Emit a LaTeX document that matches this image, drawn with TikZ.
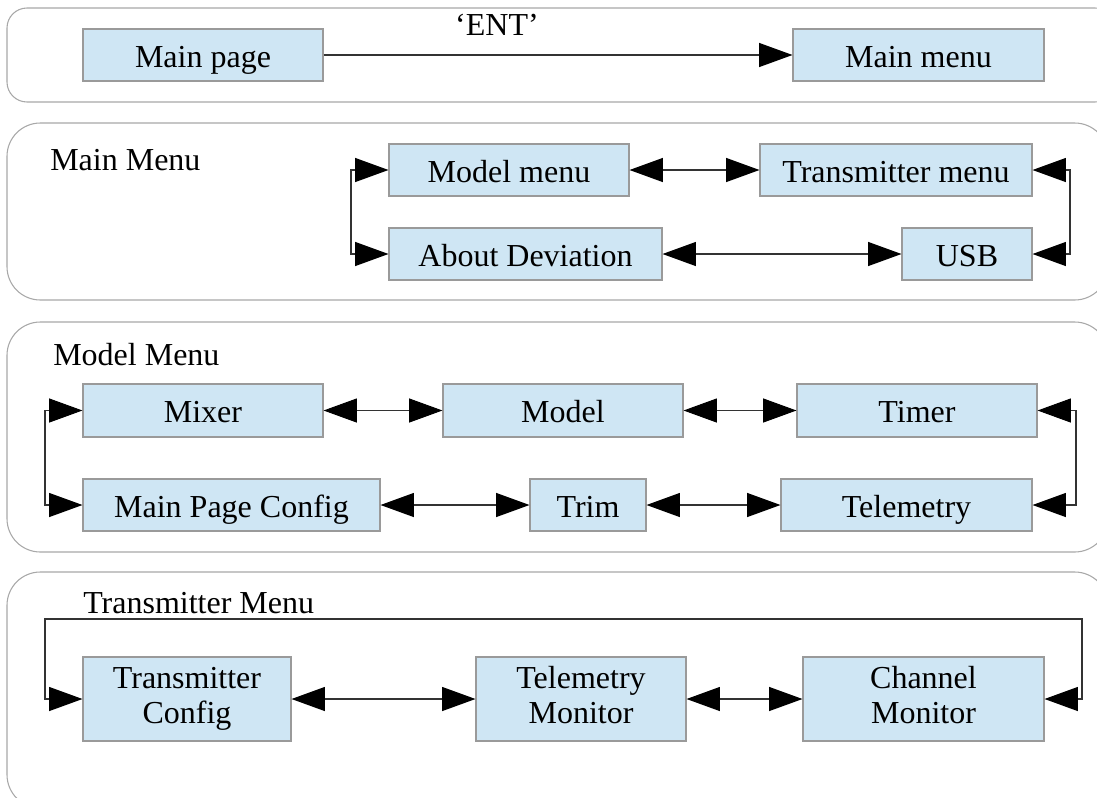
\documentclass[tikz,border=0pt]{standalone}
\usepackage{fontspec}
\setmainfont{Liberation Serif}
\usetikzlibrary{arrows.meta}
\definecolor{boxfill}{HTML}{CFE6F4}
\definecolor{boxline}{HTML}{9A9A9A}
\definecolor{panelline}{HTML}{A8A8A8}
\definecolor{conn}{HTML}{333333}
\tikzset{
  mbox/.style={draw=boxline, fill=boxfill, line width=0.8pt, inner sep=0pt,
    font=\fontsize{24}{26}\selectfont, align=center},
  onel/.style={text height=20pt, text depth=2pt},
  twol/.style={yshift=0pt},
  panel/.style={draw=panelline, line width=0.8pt},
  lbl/.style={font=\fontsize{24}{26}\selectfont, inner sep=0pt},
  tip/.tip={Triangle[length=25pt,width=18pt,fill=black,color=black]},
  one/.style={draw=conn, line width=0.8pt, -tip},
  two/.style={draw=conn, line width=0.8pt, tip-tip},
}
\newcommand{\mybox}[7]{\node[mbox, #7, minimum width=#4*0.75pt, minimum height=#5*0.75pt] (#1) at (#2,#3) {#6};}
\begin{document}
\begin{tikzpicture}[x=0.75pt,y=-0.75pt]
\clip (0,0) rectangle (1097,797);
\useasboundingbox (0,0) rectangle (1097,797);
% panels
\draw[panel, rounded corners=15pt] (7,8) rectangle (1115,102);
\draw[panel, rounded corners=25pt] (7,123) rectangle (1108,300);
\draw[panel, rounded corners=25pt] (7,322) rectangle (1108,552);
\draw[panel, rounded corners=25pt] (7,572) rectangle (1108,808);
% panel 1
\mybox{mp}{203}{55}{240}{52}{Main page}{onel}
\mybox{mm}{918.5}{55}{251}{52}{Main menu}{onel}
\draw[one] (mp.east) -- (mm.west);
\node[lbl] (ent) at (497,25) {‘ENT’};
% panel 2
\node[lbl, anchor=west] (t2) at (50,160) {Main Menu};
\mybox{modm}{509}{170}{240}{52}{Model menu}{onel}
\mybox{txm}{896}{170}{272}{52}{Transmitter menu}{onel}
\mybox{ad}{525.5}{254}{273}{52}{About Deviation}{onel}
\mybox{usb}{967}{254}{130}{52}{USB}{onel}
\coordinate (l2) at (351,0);
\coordinate (r2) at (1070,0);
\draw[two] (modm.west) -- (modm.west -| l2) |- (ad.west);
\draw[two] (txm.east) -- (txm.east -| r2) |- (usb.east);
\draw[two] (modm.east) -- (txm.west);
\draw[two] (ad.east) -- (usb.west);
% panel 3
\node[lbl, anchor=west] (t3) at (53,355) {Model Menu};
\mybox{mix}{203}{410.5}{240}{53}{Mixer}{onel}
\mybox{mod}{563}{410.5}{240}{53}{Model}{onel}
\mybox{tim}{917}{410.5}{240}{53}{Timer}{onel}
\mybox{mpc}{231.5}{505}{297}{52}{Main Page Config}{onel}
\mybox{trim}{588}{505}{116}{52}{Trim}{onel}
\mybox{tel}{906.5}{505}{251}{52}{Telemetry}{onel}
\coordinate (l3) at (45,0);
\coordinate (r3) at (1076,0);
\draw[two] (mix.west) -- (mix.west -| l3) |- (mpc.west);
\draw[two] (tim.east) -- (tim.east -| r3) |- (tel.east);
\draw[two] (mix.east) -- (mod.west);
\draw[two] (mod.east) -- (tim.west);
\draw[two] (mpc.east) -- (trim.west);
\draw[two] (trim.east) -- (tel.west);
% panel 4
\node[lbl, anchor=west] (t4) at (83,603) {Transmitter Menu};
\mybox{tc}{187}{699}{208}{84}{Transmitter\strut\\Config\strut}{}
\mybox{tm}{581}{699}{210}{84}{Telemetry\strut\\Monitor\strut}{}
\mybox{cm}{923.5}{699}{241}{84}{Channel\strut\\Monitor\strut}{}
\coordinate (r4) at (1082,619);
\coordinate (l4) at (45,619);
\draw[two] (cm.east) -| (r4) -- (l4) |- (tc.west);
\draw[two] (tc.east) -- (tm.west);
\draw[two] (tm.east) -- (cm.west);
\end{tikzpicture}
\end{document}
